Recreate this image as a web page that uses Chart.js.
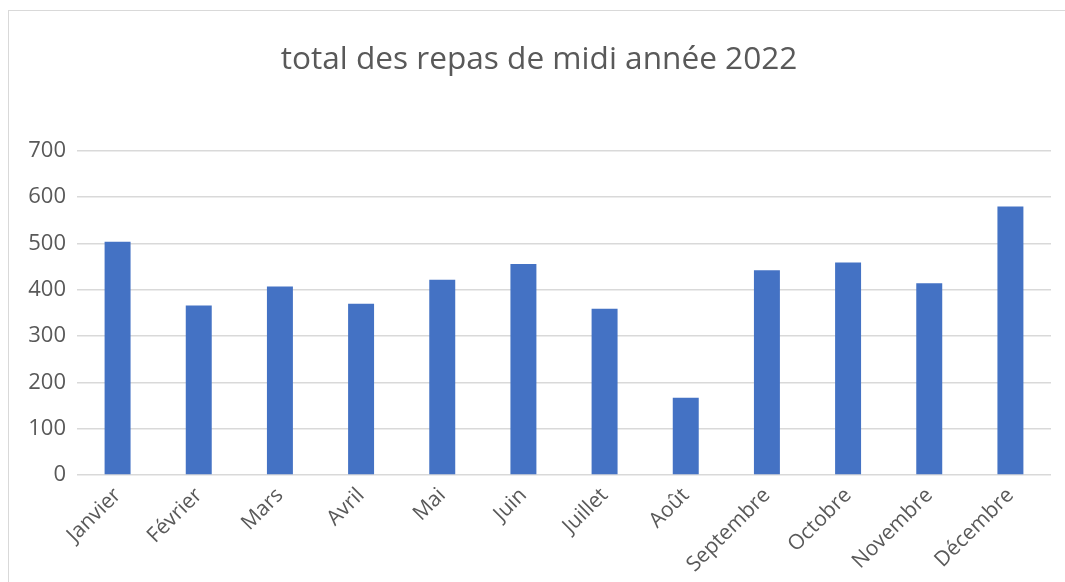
<!DOCTYPE html>
<html>
<head>
<meta charset="utf-8">
<script src="https://cdn.jsdelivr.net/npm/chart.js@4/dist/chart.umd.min.js"></script>
<style>
  html, body { margin: 0; padding: 0; background: #fff; }
  #wrap { position: relative; width: 1065px; height: 582px; overflow: hidden; }
  #frame { position: absolute; left: 8px; top: 10px; width: 1100px; height: 620px; border: 1px solid #d9d9d9; pointer-events: none; }
</style>
</head>
<body>
<div id="wrap">
  <canvas id="repasChart" width="1065" height="582"></canvas>
  <div id="frame"></div>
</div>
<script>
const months = ['Janvier', 'Février', 'Mars', 'Avril', 'Mai', 'Juin', 'Juillet', 'Août', 'Septembre', 'Octobre', 'Novembre', 'Décembre'];
const repas = [504, 366, 407, 370, 422, 456, 359, 167, 442, 459, 414, 580];
const yTicks = [0, 100, 200, 300, 400, 500, 600, 700];

const textColor = '#595959';
const gridColor = '#d9d9d9';

const ctx = document.getElementById('repasChart').getContext('2d');
const repasChart = new Chart(ctx, {
  type: 'bar',
  data: {
    labels: months,
    datasets: [{
      label: 'Repas',
      data: repas,
      backgroundColor: '#4472c4',
      categoryPercentage: 1,
      barPercentage: 0.32
    }]
  },
  options: {
    responsive: false,
    animation: false,
    // left padding keeps the title centred like the original
    layout: { padding: { left: 27, right: 14, top: 0, bottom: 0 } },
    plugins: {
      legend: { display: false },
      tooltip: { enabled: false },
      title: {
        display: true,
        text: 'total des repas de midi année 2022',
        color: textColor,
        font: { family: 'Open Sans', size: 31.6, weight: 'normal' },
        padding: { top: 41, bottom: 72 }
      }
    },
    scales: {
      x: {
        grid: { display: false },
        border: { display: false },
        ticks: {
          color: textColor,
          font: { family: 'Open Sans', size: 21 },
          minRotation: 45,
          maxRotation: 45,
          padding: 0
        },
        afterFit: scale => { scale.height = 107; }
      },
      y: {
        min: 0,
        max: 700,
        afterBuildTicks: scale => { scale.ticks = yTicks.map(v => ({ value: v })); },
        grid: { color: gridColor, lineWidth: 1.5, drawTicks: false },
        border: { display: false },
        ticks: {
          color: textColor,
          font: { family: 'Open Sans', size: 22 },
          padding: 11
        },
        afterFit: scale => { scale.width = 50; }
      }
    }
  }
});
</script>
</body>
</html>
